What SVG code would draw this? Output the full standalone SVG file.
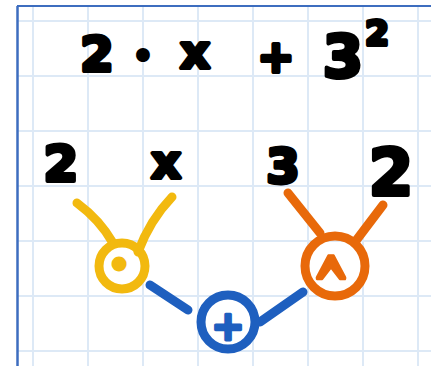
<svg xmlns="http://www.w3.org/2000/svg" width="431" height="366" viewBox="0 0 431 366">
<style>
.grid{stroke:#dde9f6;stroke-width:2}
.border{stroke:#3d6dbf;fill:none}
.ink{font-family:"DejaVu Sans",sans-serif;font-weight:bold;fill:#000;stroke:#000;stroke-width:4;stroke-linejoin:round;text-anchor:middle}
.edge{fill:none;stroke-width:9;stroke-linecap:round}
.ring{fill:none;stroke-width:9}
.op{font-family:"DejaVu Sans",sans-serif;font-weight:bold;text-anchor:middle;stroke-width:3;stroke-linejoin:round}
</style>
<rect width="431" height="366" fill="#fff"/>
<g id="grid">
<path class="grid" d="M33 6V366M88 6V366M143 6V366M198 6V366M253 6V366M308 6V366M363 6V366M418 6V366M17 21H431M17 76H431M17 131H431M17 186H431M17 241H431M17 296H431M17 351H431"/>
</g>
<path class="border" stroke-width="2" d="M17 6H431"/>
<path class="border" stroke-width="2.5" stroke="#6684c4" d="M17.5 6V366"/>
<g id="expression">
<text class="ink" x="97" y="71" font-size="48">2</text>
<text class="ink" x="143" y="66" font-size="28">•</text>
<text class="ink" x="195" y="68" font-size="46">x</text>
<text class="ink" x="276" y="72" font-size="44">+</text>
<text class="ink" x="343" y="77" font-size="58">3</text>
<text class="ink" x="377" y="45" font-size="34">2</text>
</g>
<g id="connectors">
<path class="edge" stroke="#f2b90f" d="M77 203Q100 220 113 243"/>
<path class="edge" stroke="#f2b90f" d="M172 197Q150 220 138 252"/>
<path class="edge" stroke="#e8690a" d="M288 193L320 233"/>
<path class="edge" stroke="#e8690a" d="M383 205L355 242"/>
<path class="edge" stroke="#1e5fbf" d="M150 285L188 310"/>
<path class="edge" stroke="#1e5fbf" d="M303 292L260 322"/>
</g>
<g id="leaf-2a"><text class="ink" x="61" y="181" font-size="50">2</text></g>
<g id="leaf-x"><text class="ink" x="166" y="178" font-size="46">x</text></g>
<g id="leaf-3"><text class="ink" x="283" y="183" font-size="48">3</text></g>
<g id="leaf-2b"><text class="ink" x="391" y="195" font-size="64">2</text></g>
<g id="node-mul">
<circle class="ring" stroke="#f2b90f" cx="122" cy="266" r="23"/>
<text class="op" x="119" y="277" font-size="34" fill="#f2b90f" stroke="#f2b90f">•</text>
</g>
<g id="node-pow">
<circle class="ring" stroke="#e8690a" cx="335" cy="266" r="30"/>
<text class="op" font-family="Liberation Sans" font-size="52" fill="#e8690a" stroke="#e8690a" stroke-width="5" transform="translate(331 314) scale(0.85 1.5)">^</text>
</g>
<g id="node-add">
<circle class="ring" stroke="#1e5fbf" cx="228" cy="322" r="27"/>
<text class="op" x="228" y="340" font-size="40" fill="#1e5fbf" stroke="#1e5fbf">+</text>
</g>
</svg>
